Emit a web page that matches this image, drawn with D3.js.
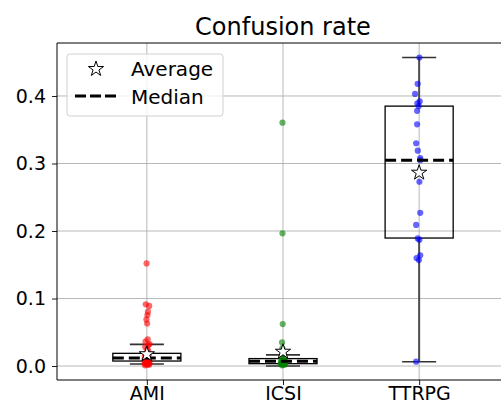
<!DOCTYPE html>
<html>
<head>
<meta charset="utf-8">
<script src="https://cdn.jsdelivr.net/npm/d3@7"></script>
<style>
  html, body { margin: 0; padding: 0; background: #fff; }
  svg { display: block; font-family: "DejaVu Sans", sans-serif; }
</style>
</head>
<body>
<svg id="chart" width="501" height="403"></svg>
<script>
// ---------------- data ----------------
const categories = ["AMI", "ICSI", "TTRPG"];
const pointColors = ["#ff0000", "#008000", "#0000ff"];

const amiValues = [0.152, 0.0914, 0.089, 0.0805, 0.0756, 0.069, 0.063, 0.0395, 0.036, 0.0326,
  0.031, 0.028, 0.025, 0.022, 0.019, 0.017, 0.015, 0.013, 0.012, 0.011, 0.010, 0.009, 0.008,
  0.007, 0.006, 0.005, 0.005, 0.004, 0.004, 0.003, 0.003, 0.002, 0.002, 0.001];
const amiJitter = [-0.002, -0.008, 0.017, 0.008, 0.004, -0.003, 0.002, 0.006, -0.010, 0.020,
  0.012, -0.012, 0.004, 0.010, -0.006, 0.015, -0.015, 0.003, -0.009, 0.011, 0.000, -0.018, 0.018,
  0.007, -0.012, 0.014, -0.004, 0.020, -0.016, 0.009, -0.008, 0.016, 0.002, -0.013];

const icsiValues = [0.3605, 0.1966, 0.0622, 0.035, 0.026, 0.018, 0.014, 0.011, 0.009, 0.008,
  0.007, 0.006, 0.005, 0.005, 0.004, 0.004, 0.003, 0.003, 0.002, 0.002, 0.001];
const icsiJitter = [-0.004, -0.004, -0.002, -0.007, -0.005, 0.004, -0.006, 0.008, -0.012, 0.014,
  0.003, -0.015, 0.010, -0.005, 0.018, -0.010, 0.006, -0.018, 0.012, 0.000, -0.008];

const ttrpgValues = [0.457, 0.418, 0.403, 0.392, 0.389, 0.385, 0.378, 0.358, 0.330, 0.319,
  0.308, 0.305, 0.273, 0.227, 0.209, 0.189, 0.187, 0.164, 0.160, 0.157, 0.0064];
const ttrpgJitter = [0.002, -0.011, -0.030, 0.004, -0.013, -0.003, -0.015, -0.015, -0.022, -0.010,
  0.008, 0.008, 0.002, 0.008, -0.022, -0.010, 0.002, 0.008, -0.019, -0.002, -0.022];

const seriesValues = [amiValues, icsiValues, ttrpgValues];
const seriesJitter = [amiJitter, icsiJitter, ttrpgJitter];

// box statistics
const whiskerLows  = [0.0030, 0.0000, 0.0064];
const q1s          = [0.0074, 0.0035, 0.1896];
const medians      = [0.0120, 0.0072, 0.3050];
const q3s          = [0.0188, 0.0110, 0.3850];
const whiskerHighs = [0.0320, 0.0165, 0.4570];
const means        = [0.0175, 0.0212, 0.2864];

const yTicks = [0.0, 0.1, 0.2, 0.3, 0.4];
const titleText = "Confusion rate";
const legendLabels = ["Average", "Median"];

// ---------------- layout ----------------
const svg = d3.select("#chart");
const plot = { left: 57, top: 43, right: 509, bottom: 380 };

const x = d3.scaleLinear().domain([0.34, 3.66]).range([plot.left, plot.right]);
const y = d3.scaleLinear().domain([-0.0207, 0.4785]).range([plot.bottom, plot.top]);

const gridColor = "#b0b0b0";
const fontTick = 19;

svg.append("defs").append("clipPath").attr("id", "plotclip")
  .append("rect").attr("x", plot.left).attr("y", plot.top)
  .attr("width", plot.right - plot.left).attr("height", plot.bottom - plot.top);

// grid
const grid = svg.append("g").attr("clip-path", "url(#plotclip)");
grid.selectAll("line.hg").data(yTicks).join("line")
  .attr("x1", plot.left).attr("x2", plot.right)
  .attr("y1", d => y(d)).attr("y2", d => y(d))
  .attr("stroke", gridColor).attr("stroke-width", 0.9);
grid.selectAll("line.vg").data(categories).join("line")
  .attr("x1", (d, i) => x(i + 1)).attr("x2", (d, i) => x(i + 1))
  .attr("y1", plot.top).attr("y2", plot.bottom)
  .attr("stroke", gridColor).attr("stroke-width", 0.9);

// axes
const yAxis = d3.axisLeft(y).tickValues(yTicks).tickFormat(d3.format(".1f")).tickSize(5).tickPadding(6);
const gy = svg.append("g").attr("transform", `translate(${plot.left},0)`).call(yAxis);
gy.select(".domain").remove();
gy.selectAll("text").attr("font-size", fontTick).attr("font-family", "DejaVu Sans").attr("fill", "#000");
gy.selectAll("line").attr("stroke", "#000").attr("stroke-width", 0.9);

const xAxis = d3.axisBottom(x).tickValues([1, 2, 3]).tickFormat((d, i) => categories[i]).tickSize(5).tickPadding(2);
const gx = svg.append("g").attr("transform", `translate(0,${plot.bottom})`).call(xAxis);
gx.select(".domain").remove();
gx.selectAll("text").attr("font-size", fontTick).attr("font-family", "DejaVu Sans").attr("fill", "#000");
gx.selectAll("line").attr("stroke", "#000").attr("stroke-width", 0.9);

// spines
svg.append("line").attr("x1", plot.left).attr("x2", plot.left).attr("y1", plot.top).attr("y2", plot.bottom)
  .attr("stroke", "#000").attr("stroke-width", 1);
svg.append("line").attr("x1", plot.left).attr("x2", plot.right).attr("y1", plot.bottom).attr("y2", plot.bottom)
  .attr("stroke", "#000").attr("stroke-width", 1);
svg.append("line").attr("x1", plot.left).attr("x2", plot.right).attr("y1", plot.top).attr("y2", plot.top)
  .attr("stroke", "#000").attr("stroke-width", 1);

// box plots
const boxHalf = 0.25, capHalf = 0.125;
const boxes = svg.append("g").attr("clip-path", "url(#plotclip)");
categories.forEach((c, i) => {
  const cx = i + 1;
  const g = boxes.append("g");
  // whiskers
  g.append("line").attr("x1", x(cx)).attr("x2", x(cx)).attr("y1", y(q3s[i])).attr("y2", y(whiskerHighs[i]))
    .attr("stroke", "#4d4d4d").attr("stroke-width", 2);
  g.append("line").attr("x1", x(cx)).attr("x2", x(cx)).attr("y1", y(q1s[i])).attr("y2", y(whiskerLows[i]))
    .attr("stroke", "#4d4d4d").attr("stroke-width", 2);
  // caps
  [whiskerHighs[i], whiskerLows[i]].forEach(v => {
    g.append("line").attr("x1", x(cx - capHalf)).attr("x2", x(cx + capHalf)).attr("y1", y(v)).attr("y2", y(v))
      .attr("stroke", "#333").attr("stroke-width", 1.6);
  });
  // box
  g.append("rect").attr("x", x(cx - boxHalf)).attr("y", y(q3s[i]))
    .attr("width", x(cx + boxHalf) - x(cx - boxHalf)).attr("height", y(q1s[i]) - y(q3s[i]))
    .attr("fill", "none").attr("stroke", "#000").attr("stroke-width", 1.3);
});

// points
const pts = svg.append("g").attr("clip-path", "url(#plotclip)");
seriesValues.forEach((vals, i) => {
  pts.selectAll(null).data(vals).join("circle")
    .attr("cx", (d, j) => x(i + 1 + seriesJitter[i][j]))
    .attr("cy", d => y(d))
    .attr("r", 3.1)
    .attr("fill", pointColors[i]).attr("fill-opacity", 0.6);
});

// medians
const med = svg.append("g");
categories.forEach((c, i) => {
  med.append("line").attr("x1", x(i + 1 - boxHalf)).attr("x2", x(i + 1 + boxHalf))
    .attr("y1", y(medians[i])).attr("y2", y(medians[i]))
    .attr("stroke", "#000").attr("stroke-width", 3).attr("stroke-dasharray", "11,5");
});

// means (stars)
const star = d3.symbol().type(d3.symbolStar).size(72);
svg.append("g").selectAll("path").data(means).join("path")
  .attr("d", star)
  .attr("transform", (d, i) => `translate(${x(i + 1)},${y(d)})`)
  .attr("fill", "#fff").attr("stroke", "#000").attr("stroke-width", 1);

// title
svg.append("text").attr("x", (plot.left + plot.right) / 2).attr("y", 35)
  .attr("text-anchor", "middle").attr("font-size", 24).attr("fill", "#000").text(titleText);

// legend
const lg = svg.append("g");
lg.append("rect").attr("x", 67).attr("y", 54).attr("width", 156).attr("height", 62).attr("rx", 3)
  .attr("fill", "#fff").attr("fill-opacity", 0.8).attr("stroke", "#d0d0d0").attr("stroke-width", 1);
lg.append("path").attr("d", star).attr("transform", "translate(96,69)")
  .attr("fill", "#fff").attr("stroke", "#000").attr("stroke-width", 1);
lg.append("line").attr("x1", 75).attr("x2", 116).attr("y1", 96).attr("y2", 96)
  .attr("stroke", "#000").attr("stroke-width", 3).attr("stroke-dasharray", "11,4");
lg.selectAll("text").data(legendLabels).join("text")
  .attr("x", 131).attr("y", (d, i) => 76 + i * 28)
  .attr("font-size", 20).attr("fill", "#000").text(d => d);
</script>
</body>
</html>
